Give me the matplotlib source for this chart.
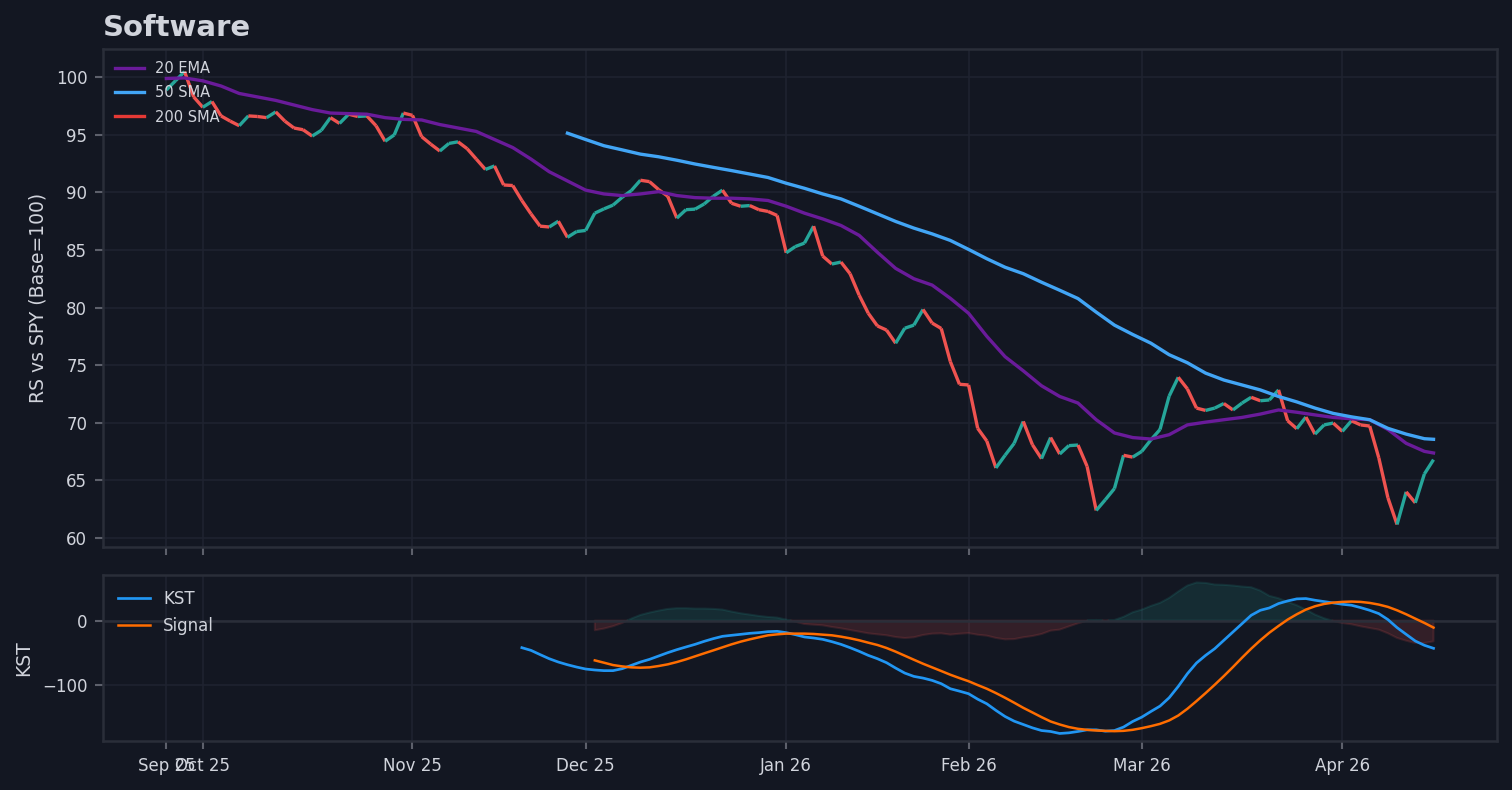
import numpy as np
import pandas as pd
from matplotlib import pyplot as plt
from matplotlib.collections import LineCollection

# trading days, Sep 25 2025 -> Apr 16 2026
holidays = ["2025-11-27", "2025-12-25", "2026-01-01", "2026-01-19", "2026-02-16", "2026-04-03"]
dates = pd.bdate_range("2025-09-25", "2026-04-16")
dates = dates[~dates.isin(pd.to_datetime(holidays))]

# relative strength vs SPY, one value per bar
rs = [98.9, 99.7, 100.5, 98.3, 97.4, 97.9, 96.65, 96.2, 95.8, 96.65,
      96.6, 96.5, 97.0, 96.2, 95.6, 95.45, 94.9, 95.4, 96.5, 96.0,
      96.8, 96.6, 96.65, 95.8, 94.45, 95.0, 96.9, 96.7, 94.85, 94.2,
      93.6, 94.26, 94.4, 93.8, 92.9, 92.0, 92.3, 90.65, 90.6, 89.3,
      88.14, 87.07, 87.0, 87.5, 86.1, 86.6, 86.7, 88.2, 88.57, 88.9,
      89.58, 90.16, 91.06, 90.94, 90.25, 89.67, 87.77, 88.5, 88.55, 89.0,
      89.67, 90.2, 89.06, 88.8, 88.86, 88.5, 88.35, 88.0, 84.76, 85.3,
      85.6, 87.07, 84.47, 83.78, 83.95, 82.94, 81.07, 79.5, 78.4, 78.04,
      76.9, 78.2, 78.47, 79.83, 78.65, 78.18, 75.3, 73.33, 73.27, 69.5,
      68.4, 66.06, 67.16, 68.2, 70.1, 68.08, 66.87, 68.7, 67.27, 68.0,
      68.05, 66.2, 62.37, 63.3, 64.27, 67.16, 67.0, 67.5, 68.5, 69.4,
      72.3, 73.94, 72.93, 71.26, 71.06, 71.26, 71.66, 71.1, 71.7, 72.2,
      71.9, 71.97, 72.84, 70.16, 69.47, 70.48, 69.0, 69.8, 69.96, 69.24,
      70.16, 69.8, 69.7, 66.93, 63.46, 61.15, 63.98, 63.03, 65.54, 66.78]

# 20 EMA, read every 2nd bar
ema_idx = list(range(0, 140, 2)) + [139]
ema20 = [99.9, 99.95, 99.7, 99.25, 98.6, 98.3, 98.0, 97.6, 97.2, 96.9,
         96.85, 96.8, 96.5, 96.35, 96.3, 95.9, 95.6, 95.3, 94.6, 93.9,
         92.9, 91.8, 91.0, 90.2, 89.87, 89.73, 89.87, 90.07, 89.73, 89.55,
         89.5, 89.5, 89.44, 89.3, 88.8, 88.2, 87.7, 87.13, 86.27, 84.8,
         83.4, 82.5, 81.95, 80.8, 79.5, 77.5, 75.73, 74.5, 73.2, 72.27,
         71.7, 70.25, 69.1, 68.7, 68.57, 68.95, 69.8, 70.04, 70.25, 70.45,
         70.74, 71.1, 70.9, 70.67, 70.45, 70.33, 70.25, 69.4, 68.2, 67.5,
         67.36]

# 50 SMA, read every 2nd bar from where it starts
sma_idx = list(range(44, 140, 2)) + [139]
sma50 = [95.15, 94.6, 94.06, 93.7, 93.33, 93.1, 92.8, 92.47, 92.18, 91.9,
         91.6, 91.3, 90.8, 90.36, 89.87, 89.44, 88.8, 88.14, 87.48, 86.9,
         86.4, 85.83, 85.05, 84.24, 83.5, 82.94, 82.2, 81.5, 80.78, 79.6,
         78.47, 77.66, 76.9, 75.9, 75.2, 74.3, 73.7, 73.27, 72.84, 72.27,
         71.8, 71.26, 70.8, 70.5, 70.25, 69.5, 69.0, 68.6, 68.55]

# KST from bar 39, signal from bar 47
kst_start = 39
kst = [-42.2, -46.4, -53.0, -59.4, -64.6, -68.8, -72.4, -75.5, -77.0, -78.0,
       -78.0, -75.0, -69.8, -64.6, -60.4, -55.2, -50.0, -45.3, -41.1, -37.0,
       -32.3, -28.1, -24.5, -22.9, -21.4, -19.8, -18.75, -17.2, -16.7, -18.75,
       -21.9, -25.5, -27.1, -29.2, -32.8, -37.0, -42.2, -47.9, -54.2, -59.4,
       -65.6, -74.0, -81.8, -87.0, -89.6, -93.2, -98.4, -106.25, -110.0, -114.0,
       -122.5, -129.7, -140.0, -149.5, -156.8, -162.0, -167.2, -171.4, -172.9, -176.0,
       -175.0, -172.9, -170.3, -170.3, -172.4, -171.4, -166.0, -157.3, -150.5, -141.7,
       -133.3, -120.3, -102.6, -82.8, -66.1, -54.2, -43.75, -30.7, -17.7, -4.7,
       8.3, 16.1, 19.8, 26.6, 30.7, 33.9, 34.4, 31.8, 29.7, 27.6,
       25.5, 24.0, 20.3, 16.1, 10.9, 1.6, -10.9, -21.4, -31.8, -38.5,
       -43.2]
sig_start = 47
signal = [-62.0, -65.6, -69.3, -71.4, -72.9, -73.4, -72.9, -70.8, -68.2, -64.6,
          -60.4, -55.7, -51.0, -46.4, -41.7, -37.0, -32.8, -29.2, -26.0, -22.9,
          -21.4, -20.3, -20.3, -20.3, -20.8, -21.9, -22.9, -25.0, -27.6, -30.7,
          -34.4, -38.0, -42.7, -48.4, -54.7, -61.0, -67.2, -72.9, -78.6, -84.4,
          -89.6, -94.5, -100.5, -106.25, -113.0, -120.3, -128.0, -136.0, -143.2, -150.5,
          -157.3, -162.0, -166.0, -168.75, -170.3, -171.4, -171.9, -172.4, -171.9, -170.3,
          -167.7, -164.6, -161.0, -155.7, -148.0, -137.5, -125.5, -113.0, -100.0, -86.5,
          -72.4, -57.8, -43.75, -30.7, -18.75, -8.3, 1.6, 9.9, 17.2, 22.4,
          26.0, 28.1, 29.2, 29.7, 29.2, 27.6, 25.0, 21.4, 16.1, 9.9,
          3.1, -3.6, -10.9]

BG = "#131722"
TXT = "#d1d4dc"
GRID = "#1f2330"
SPINE = "#2a2e39"
UP = "#26a69a"
DOWN = "#ef5350"

plt.rcParams["font.family"] = ["DejaVu Sans"]

fig, (ax, ax2) = plt.subplots(2, 1, sharex=True, figsize=(10.08, 5.2667), dpi=150,
                              gridspec_kw={"height_ratios": [3, 1]})
fig.patch.set_facecolor(BG)
fig.subplots_adjust(left=0.0681, right=0.990, top=0.938, bottom=0.062, hspace=0.084)

x = np.arange(len(rs))
rs_arr = np.array(rs)
pts = np.column_stack([x, rs_arr])
segs = np.stack([pts[:-1], pts[1:]], axis=1)
cols = [UP if d >= 0 else DOWN for d in np.diff(rs_arr)]
ax.add_collection(LineCollection(segs, colors=cols, linewidths=1.6, zorder=3))
ax.autoscale_view()

ax.plot(ema_idx, ema20, color="#6a1b9a", lw=1.6, label="20 EMA", zorder=4)
ax.plot(sma_idx, sma50, color="#42a5f5", lw=1.6, label="50 SMA", zorder=4)
ax.plot([], [], color="#e53935", lw=1.6, label="200 SMA")
ax.set_ylabel("RS vs SPY (Base=100)", color=TXT, fontsize=9)
ax.set_title("Software", loc="left", color=TXT, fontsize=14, fontweight="bold", pad=6)
leg = ax.legend(loc="upper left", fontsize=7, frameon=False, handlelength=2.0,
                borderaxespad=0.4, labelspacing=0.65)
for t in leg.get_texts():
    t.set_color(TXT)

kx = np.arange(kst_start, kst_start + len(kst))
sx = np.arange(sig_start, sig_start + len(signal))
ax2.plot(kx, kst, color="#2196f3", lw=1.3, label="KST", zorder=4)
ax2.plot(sx, signal, color="#ff6d00", lw=1.2, label="Signal", zorder=4)
diff = np.array(kst[sig_start - kst_start:]) - np.array(signal)
ax2.fill_between(sx, 0, diff, where=diff >= 0, color=UP, alpha=0.15, interpolate=True, lw=1)
ax2.fill_between(sx, 0, diff, where=diff < 0, color=DOWN, alpha=0.15, interpolate=True, lw=1)
ax2.axhline(0, color=SPINE, lw=1.2, zorder=2)
ax2.set_ylabel("KST", color=TXT, fontsize=9)
leg2 = ax2.legend(loc="upper left", fontsize=8, frameon=False, handlelength=1.9,
                  borderaxespad=0.5, labelspacing=0.55)
for t in leg2.get_texts():
    t.set_color(TXT)

# ticks: first bar and first bar of each month
tick_pos = [0] + [i for i in range(1, len(dates)) if dates[i].month != dates[i - 1].month]
tick_lab = [dates[i].strftime("%b %y") for i in tick_pos]
ax2.set_xticks(tick_pos)
ax2.set_xticklabels(tick_lab)

for a in (ax, ax2):
    a.set_facecolor(BG)
    a.grid(True, color=GRID, lw=0.8)
    a.set_axisbelow(True)
    for s in a.spines.values():
        s.set_color(SPINE)
        s.set_linewidth(1.2)
    a.tick_params(colors=TXT, labelsize=8, length=4, width=1, color="#5d606b")

plt.savefig("out.png", facecolor=BG)
